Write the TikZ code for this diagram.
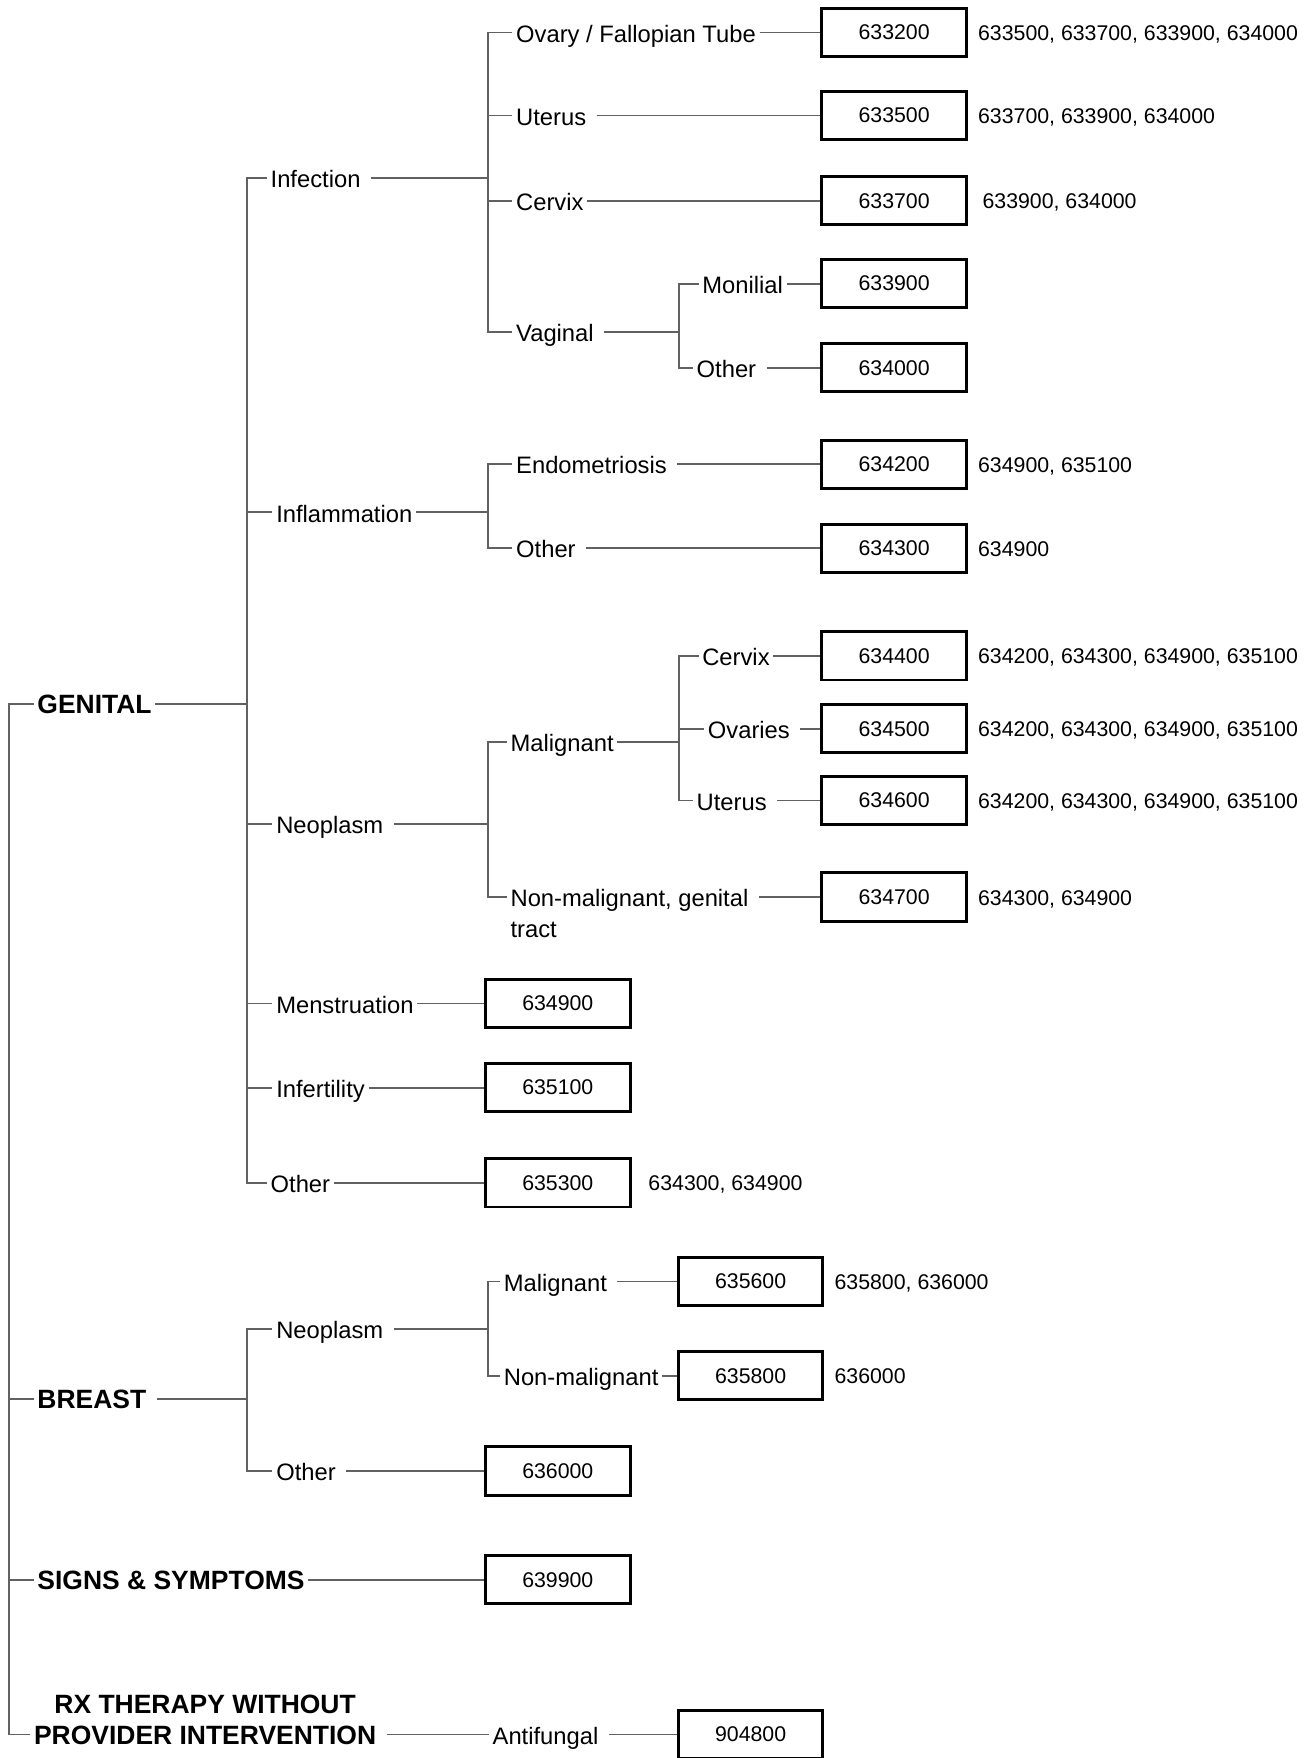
\documentclass[tikz,border=0pt]{standalone}
\usepackage{fontspec}
\setmainfont{Liberation Sans}
\usetikzlibrary{positioning}

\tikzset{
  link/.style={draw=black!62, line width=0.85pt},
  gapped/.style={shorten <=3pt},
  lbl/.style={anchor=west, inner xsep=1.5pt, inner ysep=0pt, text height=0.86em, text depth=0pt, font=\fontsize{10.6}{12}\selectfont},
  hdr/.style={lbl, font=\fontsize{11.8}{13}\selectfont\bfseries},
  codebox/.style={draw, line width=1.3pt, minimum width=64.5pt, minimum height=21.5pt, inner sep=0pt, font=\fontsize{9.5}{11}\selectfont},
  also/.style={anchor=west, inner sep=0pt, text height=0.72em, text depth=0pt, font=\fontsize{9.5}{11}\selectfont},
}

\begin{document}
\begin{tikzpicture}[x=0.5pt,y=-0.5pt]
        \useasboundingbox (0,0) rectangle (1163,1568);
        % Top level
        \coordinate (jroot) at (8,628);
        \node[hdr] (genital) at (30,628) {GENITAL};
        \node[hdr] (breast) at (30,1248) {BREAST};
        \node[hdr] (signs) at (30,1409) {SIGNS \& SYMPTOMS};
        \node[hdr] (rx) at (27,1547) {PROVIDER INTERVENTION};
        \node[hdr, above=4.5pt of rx] (rxtop) {RX THERAPY WITHOUT};
        \draw[link] (genital.west) -- (jroot) |- (rx.west);
        \draw[link] (jroot |- breast.west) -- (breast.west);
        \draw[link] (jroot |- signs.west) -- (signs.west);

        % Genital
        \coordinate (jgen) at (220,628);
        \node[lbl] (infection) at (238,159) {Infection};
        \node[lbl] (inflam) at (243,457) {Inflammation};
        \node[lbl] (neo) at (243,735) {Neoplasm};
        \node[lbl] (menses) at (243,895) {Menstruation};
        \node[lbl] (infert) at (243,970) {Infertility};
        \node[lbl] (gother) at (238,1055) {Other};
        \draw[link] (genital.east) -- (jgen);
        \draw[link] (infection.west) -| (jgen) |- (gother.west);
        \draw[link] (jgen |- inflam.west) -- (inflam.west);
        \draw[link] (jgen |- neo.west) -- (neo.west);
        \draw[link] (jgen |- menses.west) -- (menses.west);
        \draw[link] (jgen |- infert.west) -- (infert.west);

        % Infection
        \coordinate (jinf) at (435,159);
        \node[lbl] (ovary) at (457,29) {Ovary / Fallopian Tube};
        \node[lbl] (uterus) at (457,103) {Uterus};
        \node[lbl] (icervix) at (457,179) {Cervix};
        \node[lbl] (vaginal) at (457,296) {Vaginal};
        \draw[link,gapped] (infection.east) -- (jinf);
        \draw[link] (ovary.west) -| (jinf) |- (vaginal.west);
        \draw[link] (jinf |- uterus.west) -- (uterus.west);
        \draw[link] (jinf |- icervix.west) -- (icervix.west);
        % Vaginal
        \coordinate (jvag) at (606,296);
        \node[lbl] (monilial) at (623,253) {Monilial};
        \node[lbl] (vother) at (618,328) {Other};
        \draw[link,gapped] (vaginal.east) -- (jvag);
        \draw[link] (monilial.west) -| (jvag) |- (vother.west);
        % Infection codes
        \node[codebox] (b633200) at (797.5,29) {633200};
        \node[codebox] (b633500) at (797.5,103) {633500};
        \node[codebox] (b633700) at (797.5,179) {633700};
        \node[codebox] (b633900) at (797.5,253) {633900};
        \node[codebox] (b634000) at (797.5,328) {634000};
        \draw[link] (ovary.east) -- (b633200.west);
        \draw[link,gapped] (uterus.east) -- (b633500.west);
        \draw[link] (icervix.east) -- (b633700.west);
        \draw[link] (monilial.east) -- (b633900.west);
        \draw[link,gapped] (vother.east) -- (b634000.west);
        \node[also] (a633200) at (872,29) {633500, 633700, 633900, 634000};
        \node[also] (a633500) at (872,103) {633700, 633900, 634000};
        \node[also] (a633700) at (876,179) {633900, 634000};

        % Inflammation
        \coordinate (jinfl) at (435,457);
        \node[lbl] (endo) at (457,414) {Endometriosis};
        \node[lbl] (iother) at (457,489) {Other};
        \draw[link] (inflam.east) -- (jinfl);
        \draw[link] (endo.west) -| (jinfl) |- (iother.west);
        \node[codebox] (b634200) at (797.5,414) {634200};
        \node[codebox] (b634300) at (797.5,489) {634300};
        \draw[link,gapped] (endo.east) -- (b634200.west);
        \draw[link,gapped] (iother.east) -- (b634300.west);
        \node[also] (a634200) at (872,414) {634900, 635100};
        \node[also] (a634300) at (872,489) {634900};

        % Neoplasm
        \coordinate (jneo) at (435,735);
        \node[lbl] (malig) at (452,662) {Malignant};
        \node[lbl] (nonmal) at (452,800) {Non-malignant, genital};
        \node[lbl] (tract) at (452,828) {tract};
        \draw[link,gapped] (neo.east) -- (jneo);
        \draw[link] (malig.west) -| (jneo) |- (nonmal.west);
        % Malignant
        \coordinate (jmal) at (606,662);
        \node[lbl] (mcervix) at (623,585) {Cervix};
        \node[lbl] (ovaries) at (628,650) {Ovaries};
        \node[lbl] (muterus) at (618,714) {Uterus};
        \draw[link] (malig.east) -- (jmal);
        \draw[link] (mcervix.west) -| (jmal) |- (muterus.west);
        \draw[link] (jmal |- ovaries.west) -- (ovaries.west);
        \node[codebox] (b634400) at (797.5,585) {634400};
        \node[codebox] (b634500) at (797.5,650) {634500};
        \node[codebox] (b634600) at (797.5,714) {634600};
        \node[codebox] (b634700) at (797.5,800) {634700};
        \draw[link] (mcervix.east) -- (b634400.west);
        \draw[link,gapped] (ovaries.east) -- (b634500.west);
        \draw[link,gapped] (muterus.east) -- (b634600.west);
        \draw[link,gapped] (nonmal.east) -- (b634700.west);
        \node[also] (a634400) at (872,585) {634200, 634300, 634900, 635100};
        \node[also] (a634500) at (872,650) {634200, 634300, 634900, 635100};
        \node[also] (a634600) at (872,714) {634200, 634300, 634900, 635100};
        \node[also] (a634700) at (872,800) {634300, 634900};

        % Menstruation, infertility, other
        \node[codebox] (b634900) at (497.5,895) {634900};
        \node[codebox] (b635100) at (497.5,970) {635100};
        \node[codebox] (b635300) at (497.5,1055) {635300};
        \draw[link] (menses.east) -- (b634900.west);
        \draw[link] (infert.east) -- (b635100.west);
        \draw[link] (gother.east) -- (b635300.west);
        \node[also] (a635300) at (578,1055) {634300, 634900};

        % Breast
        \coordinate (jbr) at (220,1248);
        \node[lbl] (bneo) at (243,1185) {Neoplasm};
        \node[lbl] (bother) at (243,1312) {Other};
        \draw[link,gapped] (breast.east) -- (jbr);
        \draw[link] (bneo.west) -| (jbr) |- (bother.west);
        \coordinate (jbneo) at (435,1185);
        \node[lbl] (bmal) at (446,1143) {Malignant};
        \node[lbl] (bnonmal) at (446,1227) {Non-malignant};
        \draw[link,gapped] (bneo.east) -- (jbneo);
        \draw[link] (bmal.west) -| (jbneo) |- (bnonmal.west);
        \node[codebox] (b635600) at (669.5,1143) {635600};
        \node[codebox] (b635800) at (669.5,1227) {635800};
        \node[codebox] (b636000) at (497.5,1312) {636000};
        \draw[link,gapped] (bmal.east) -- (b635600.west);
        \draw[link] (bnonmal.east) -- (b635800.west);
        \draw[link,gapped] (bother.east) -- (b636000.west);
        \node[also] (a635600) at (744,1143) {635800, 636000};
        \node[also] (a635800) at (744,1227) {636000};

        % Signs and symptoms
        \node[codebox] (b639900) at (497.5,1409) {639900};
        \draw[link] (signs.east) -- (b639900.west);

        % Rx therapy
        \node[lbl] (antifungal) at (436,1547) {Antifungal};
        \node[codebox] (b904800) at (669.5,1547) {904800};
        \draw[link,gapped] (rx.east) -- (antifungal.west);
        \draw[link,gapped] (antifungal.east) -- (b904800.west);
\end{tikzpicture}
\end{document}
